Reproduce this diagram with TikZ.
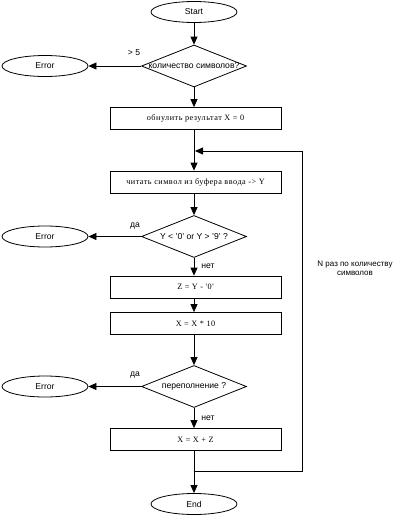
\documentclass[tikz,border=0pt]{standalone}
\usepackage{fontspec}
\setmainfont{Liberation Sans}
\newfontfamily\boxfont[LetterSpace=6]{Liberation Serif}
\usetikzlibrary{shapes.geometric,arrows.meta}
\begin{document}
\begin{tikzpicture}[x=1pt,y=-1pt,
  every node/.style={font=\fontsize{8.6}{10}\selectfont},
  term/.style={draw,ellipse,line width=0.8pt,minimum width=86pt,minimum height=21pt,inner sep=0pt},
  proc/.style={draw,rectangle,line width=0.8pt,minimum width=171pt,minimum height=22pt,inner sep=0pt,font=\boxfont\fontsize{8.2}{9.5}\selectfont},
  dec/.style={draw,diamond,line width=0.8pt,minimum width=105pt,minimum height=42pt,inner sep=0pt},
  arr/.style={line width=0.8pt,-{Triangle[length=8pt,width=7pt]}},
  lbl/.style={inner sep=1pt}]
\useasboundingbox (0,0) rectangle (400,517);
\node[term] (start) at (194,12) {Start};
\node[dec] (d1) at (194,66) {\makebox[0pt]{количество символов?}};
\node[term] (e1) at (45,66) {Error};
\node[proc] (b1) at (195.5,118.5) {обнулить результат X = 0};
\node[proc] (b2) at (195.5,182) {читать символ из буфера ввода -> Y};
\node[dec] (d2) at (194,236.5) {\makebox[0pt]{Y < '0' or Y > '9' ?}};
\node[term] (e2) at (45,236.5) {Error};
\node[proc] (b3) at (195.5,287) {Z = Y - '0'};
\node[proc] (b4) at (195.5,323.5) {X = X * 10};
\node[dec] (d3) at (194,386.5) {\makebox[0pt]{переполнение ?}};
\node[term] (e3) at (45,386.5) {Error};
\node[proc] (b5) at (195.5,439.5) {X = X + Z};
\node[term] (end) at (194,504) {End};
\node[lbl,align=center,font=\fontsize{8}{9.5}\selectfont] (loopl) at (355,268.5) {N раз по количеству\\символов};
\node[lbl] (gt) at (134,53) {> 5};
\node[lbl] (da1) at (135,226) {да};
\node[lbl] (net1) at (208,266) {нет};
\node[lbl] (da2) at (135,375) {да};
\node[lbl] (net2) at (208,418) {нет};
\coordinate (jt) at (194,151);
\coordinate (jb) at (194,471);
\coordinate (jr) at (302,471);
\draw[arr] (start) -- (d1);
\draw[arr] (d1) -- (e1);
\draw[arr] (d1) -- (d1 |- b1.north);
\draw[arr] (b1.south -| jt) -- (jt |- b2.north);
\draw[arr] (b2.south -| d2.north) -- (d2);
\draw[arr] (d2) -- (e2);
\draw[arr] (d2) -- (d2 |- b3.north);
\draw[arr] (b3.south -| d2.south) -- (d2.south |- b4.north);
\draw[arr] (b4.south -| d3.north) -- (d3);
\draw[arr] (d3) -- (e3);
\draw[arr] (d3) -- (d3 |- b5.north);
\draw[arr] (b5.south -| end.north) -- (end);
\draw[arr] (jb) -- (jr) |- ([xshift=1pt]jt);
\end{tikzpicture}
\end{document}
